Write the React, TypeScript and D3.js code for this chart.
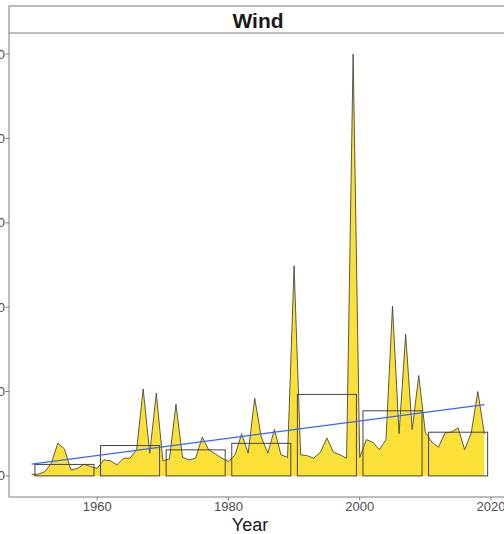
import React from 'react';
import * as d3 from 'd3';

// yearly wind values, 1950-2019
const startYear = 1950;
const windValues = [
  2, 2, 5, 15, 39, 32, 7, 9, 14, 11,
  9, 19, 18, 13, 21, 21, 31, 103, 27, 98,
  18, 20, 85, 22, 19, 21, 46, 31, 26, 21,
  17, 25, 50, 27, 92, 46, 27, 55, 25, 22,
  249, 25, 24, 21, 28, 45, 28, 25, 21, 500,
  22, 43, 40, 31, 43, 201, 50, 168, 55, 119,
  52, 40, 34, 51, 52, 57, 31, 51, 100, 50,
];
const decadeStarts = [1950, 1960, 1970, 1980, 1990, 2000, 2010];
const xTicks = [1960, 1980, 2000, 2020];
const yTicks = [0, 100, 200, 300, 400, 500];

const W = 504;
const H = 534;
const panel = { left: 9, right: 507, top: 33, bottom: 497 };

const App = () => {
  const data = windValues.map((v, i) => ({ year: startYear + i, value: v }));

  const xMin = d3.min(data, d => d.year) as number;
  const xMax = d3.max(data, d => d.year) as number;
  const xPad = (xMax - xMin) * 0.05;
  const x = d3.scaleLinear()
    .domain([xMin - xPad, xMax + xPad])
    .range([panel.left, panel.right]);

  const yMax = d3.max(data, d => d.value) as number;
  const yPad = yMax * 0.05;
  const y = d3.scaleLinear()
    .domain([-yPad, yMax + yPad])
    .range([panel.bottom, panel.top]);

  const area = d3.area<{ year: number; value: number }>()
    .x(d => x(d.year))
    .y0(y(0))
    .y1(d => y(d.value));
  const line = d3.line<{ year: number; value: number }>()
    .x(d => x(d.year))
    .y(d => y(d.value));

  // decade means
  const decades = decadeStarts.map(s => ({
    start: s,
    mean: d3.mean(data.filter(d => d.year >= s && d.year < s + 10), d => d.value) as number,
  }));

  // linear trend
  const mx = d3.mean(data, d => d.year) as number;
  const my = d3.mean(data, d => d.value) as number;
  const slope = d3.sum(data, d => (d.year - mx) * (d.value - my)) /
    d3.sum(data, d => (d.year - mx) ** 2);
  const trend = (yr: number) => my + slope * (yr - mx);

  const font = 'Liberation Sans, Arial, sans-serif';
  const axisCol = '#7a7a7a';

  return (
    <svg width={W} height={H} style={{ position: 'absolute', left: 0, top: 0, background: '#fff' }}>
      {/* strip */}
      <rect x={panel.left} y={6} width={panel.right - panel.left} height={panel.top - 6}
        fill="#fff" stroke={axisCol} strokeWidth={1} />
      <text x={(panel.left + panel.right) / 2} y={28} textAnchor="middle"
        fontFamily={font} fontWeight="bold" fontSize={21} fill="#1a1a1a">Wind</text>

      {/* data */}
      <path d={area(data) as string} fill="#FBE137" />
      <path d={line(data) as string} fill="none" stroke="#333" strokeWidth={0.8} />
      {decades.map(d => (
        <rect key={d.start}
          x={x(d.start + 0.5)} y={y(d.mean)}
          width={x(d.start + 9.5) - x(d.start + 0.5)} height={y(0) - y(d.mean)}
          fill="none" stroke="#444" strokeWidth={1} />
      ))}
      <line x1={x(xMin)} y1={y(trend(xMin))} x2={x(xMax)} y2={y(trend(xMax))}
        stroke="#3366FF" strokeWidth={1.1} />

      {/* axes */}
      <line x1={panel.left} y1={panel.top} x2={panel.left} y2={panel.bottom} stroke={axisCol} strokeWidth={1} />
      <line x1={panel.left} y1={panel.bottom} x2={panel.right} y2={panel.bottom} stroke={axisCol} strokeWidth={1} />
      {yTicks.map(t => (
        <g key={t}>
          <line x1={panel.left - 3.5} x2={panel.left} y1={y(t)} y2={y(t)} stroke={axisCol} />
          <text x={panel.left - 4} y={y(t)} dy="0.35em" textAnchor="end"
            fontFamily={font} fontSize={13} fill="#4d4d4d">{t}</text>
        </g>
      ))}
      {xTicks.map(t => (
        <g key={t}>
          <line x1={x(t)} x2={x(t)} y1={panel.bottom} y2={panel.bottom + 3.5} stroke={axisCol} />
          <text x={x(t)} y={511} textAnchor="middle"
            fontFamily={font} fontSize={13} fill="#4d4d4d">{t}</text>
        </g>
      ))}
      <text x={250} y={531} textAnchor="middle" fontFamily={font} fontSize={18} fill="#1a1a1a">Year</text>
    </svg>
  );
};

export default App;
